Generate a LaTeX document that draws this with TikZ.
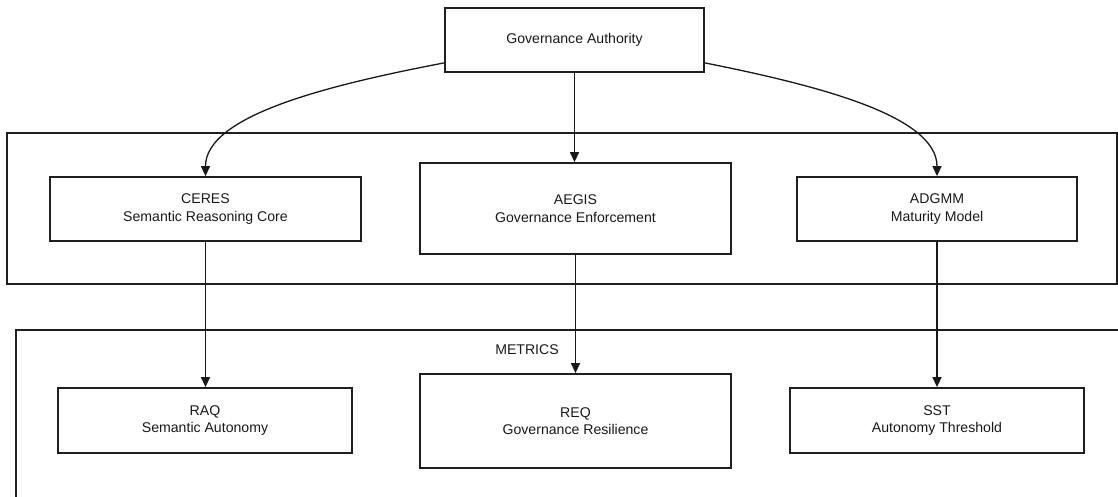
\documentclass[tikz,border=0pt]{standalone}
\usepackage{fontspec}
\setmainfont{Liberation Sans}
\usetikzlibrary{arrows.meta,calc}
\begin{document}
\begin{tikzpicture}[x=1pt,y=-1pt,
  box/.style={draw=black!88, line width=1.8pt, fill=white, text=black!90, align=center, inner sep=0pt, font=\fontsize{14.1}{17.6}\selectfont},
  frame/.style={draw=black!88, line width=1.8pt, inner sep=0pt},
  lbl/.style={text=black!90, inner sep=0pt, font=\fontsize{14.1}{17.6}\selectfont},
  conn/.style={draw=black!90, line width=1.3pt, -{Triangle[width=9pt,length=10pt]}}]
\useasboundingbox (0,0) rectangle (1118,496);
\clip (0,0) rectangle (1118,496);
\fill[white] (0,0) rectangle (1118,496);
% containers
\node[frame, minimum width=1110pt, minimum height=151pt] (midframe) at (562,208.5) {};
\node[frame, minimum width=1109pt, minimum height=170pt] (botframe) at (570.5,415) {};
\node[lbl, anchor=base] (metrics) at (527,354) {METRICS};
% boxes
\node[box, minimum width=259pt, minimum height=64pt] (top) at (574.5,40) {Governance Authority};
\node[box, minimum width=311pt, minimum height=64pt] (ceres) at (205.5,209) {CERES\\Semantic Reasoning Core};
\node[box, minimum width=311pt, minimum height=91pt] (aegis) at (575.5,208.5) {AEGIS\\Governance Enforcement};
\node[box, minimum width=280pt, minimum height=64pt] (adgmm) at (937,209) {ADGMM\\Maturity Model};
\node[box, minimum width=294pt, minimum height=65pt] (raq) at (205,420.5) {RAQ\\Semantic Autonomy};
\node[box, minimum width=311pt, minimum height=94pt] (req) at (575.5,421) {REQ\\Governance Resilience};
\node[box, minimum width=294pt, minimum height=65pt] (sst) at (937,420.5) {SST\\Autonomy Threshold};
% connectors
\coordinate (tl) at ($(top.south west)+(0,-10)$);
\coordinate (tr) at ($(top.south east)+(0,-10)$);
\draw[conn] (tl) .. controls +(-120,23) and +(0,-60) .. (ceres.north);
\draw[conn] (tr) .. controls +(115,23) and +(0,-60) .. (adgmm.north);
\draw[conn] (top.south) -- (top.south |- aegis.north);
\draw[conn] (ceres.south) -- (ceres.south |- raq.north);
\draw[conn] (aegis.south) -- (aegis.south |- req.north);
\draw[conn] (adgmm.south) -- (adgmm.south |- sst.north);
\end{tikzpicture}
\end{document}
